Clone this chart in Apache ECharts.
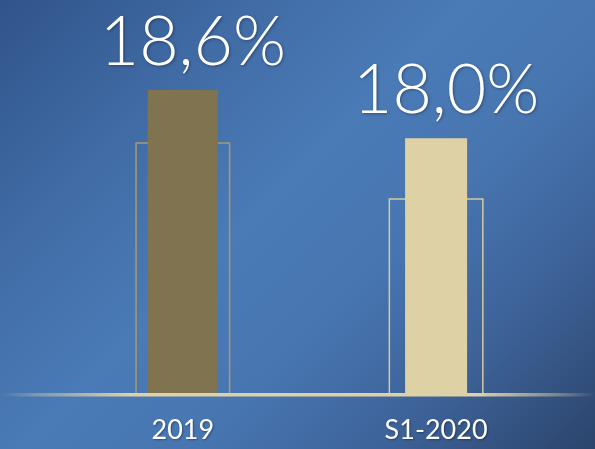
<!DOCTYPE html>
<html>
<head>
<meta charset="utf-8">
<script src="https://cdn.jsdelivr.net/npm/echarts@6/dist/echarts.min.js"></script>
<style>
html,body{margin:0;padding:0;width:595px;height:449px;overflow:hidden;}
body{background:linear-gradient(135deg,#30548a 0%,#416ca6 25%,#4a7bb7 45%,#4775b0 62%,#3d6298 80%,#2b446b 100%);}
#chart{width:595px;height:449px;}
</style>
</head>
<body>
<div id="chart"></div>
<script>
const categories = ['2019', 'S1-2020'];
const valueLabels = ['18,6%', '18,0%'];
const mainValues = [18.6, 18.0];
const outlineValues = [17.95, 17.25];

const chart = echarts.init(document.getElementById('chart'), null, {renderer: 'canvas'});

const labelStyle = {
  show: true,
  position: 'top',
  distance: 13,
  offset: [10, 0],
  color: '#ffffff',
  fontFamily: 'Lato',
  fontWeight: 300,
  fontSize: 68,
  textShadowColor: 'rgba(0,0,0,0.35)',
  textShadowBlur: 3,
  textShadowOffsetX: 1,
  textShadowOffsetY: 1,
  formatter: function (p) { return valueLabels[p.dataIndex]; }
};

const hiddenAxis = function () {
  return {type: 'category', data: categories, show: false, gridIndex: 0};
};

chart.setOption({
  backgroundColor: 'transparent',
  animation: false,
  grid: {left: 56.15, right: 32.25, top: 9.7, bottom: 54},
  xAxis: [
    {
      type: 'category',
      data: categories,
      axisLine: {show: false},
      axisTick: {show: false},
      axisLabel: {
        color: '#ffffff',
        fontFamily: 'Lato',
        fontWeight: 400,
        fontSize: 27,
        margin: 22,
        textShadowColor: 'rgba(0,0,0,0.35)',
        textShadowBlur: 2,
        textShadowOffsetX: 1,
        textShadowOffsetY: 1
      }
    },
    hiddenAxis(),
    hiddenAxis()
  ],
  yAxis: {
    type: 'value', min: 14.8, max: 19.6, show: false
  },
  series: [
    {
      type: 'bar',
      xAxisIndex: 0,
      barWidth: 95,
      data: [
        {value: outlineValues[0], itemStyle: {borderColor: '#a99a70'}},
        {value: outlineValues[1], itemStyle: {borderColor: '#d6c9a0'}}
      ],
      itemStyle: {color: 'rgba(0,0,0,0)', borderWidth: 1.5}
    },
    {
      type: 'bar',
      xAxisIndex: 1,
      barWidth: 70,
      data: [mainValues[0], '-'],
      itemStyle: {color: '#7f7350'},
      label: labelStyle
    },
    {
      type: 'bar',
      xAxisIndex: 2,
      barWidth: 62,
      data: ['-', mainValues[1]],
      itemStyle: {color: '#dfd1a6'},
      label: labelStyle
    }
  ],
  graphic: [
    {
      type: 'rect',
      z: 100,
      shape: {x: 0, y: 393, width: 595, height: 3.5},
      style: {
        fill: {
          type: 'linear', x: 0, y: 0, x2: 1, y2: 0,
          colorStops: [
            {offset: 0, color: 'rgba(223,209,166,0)'},
            {offset: 0.06, color: 'rgba(223,209,166,0.35)'},
            {offset: 0.22, color: 'rgba(223,209,166,1)'},
            {offset: 0.8, color: 'rgba(223,209,166,1)'},
            {offset: 0.94, color: 'rgba(223,209,166,0.4)'},
            {offset: 1, color: 'rgba(223,209,166,0)'}
          ]
        }
      }
    }
  ]
});
</script>
</body>
</html>
